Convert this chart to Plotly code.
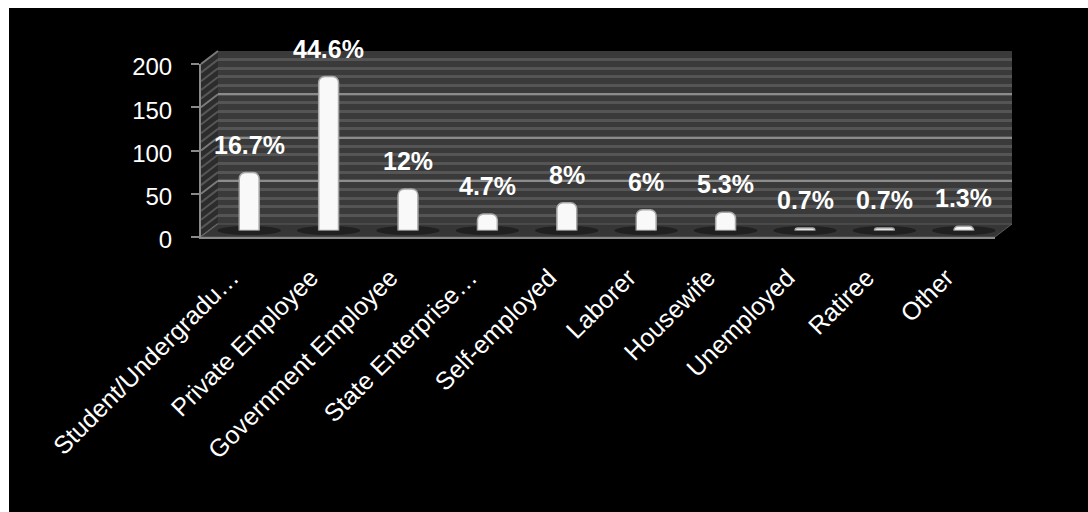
import plotly.graph_objects as go

# Occupation of respondents: counts and their share of the sample
categories = [
    "Student/Undergradu…", "Private Employee", "Government Employee",
    "State Enterprise…", "Self-employed", "Laborer", "Housewife",
    "Unemployed", "Ratiree", "Other",
]
counts = [67, 178, 48, 19, 32, 24, 21, 3, 3, 5]
share_labels = ["16.7%", "44.6%", "12%", "4.7%", "8%", "6%", "5.3%", "0.7%", "0.7%", "1.3%"]
y_ticks = [0, 50, 100, 150, 200]

# ---- page and pseudo-3D box geometry (pixels) ----
W, H = 1088, 512
FRAME_L, FRAME_T = 9, 8                 # white page border around the black panel
FRONT_L, FRONT_R = 201, 995             # front plane of the chart box
FRONT_B, FRONT_T = 237, 64              # value 0 and value 200 on the front plane
DEPTH_X, DEPTH_Y = 17, 13               # box depth (back plane offset)
Y_MAX = 200
FONT = "Arial, Liberation Sans, sans-serif"


def px(x):
    return x / W


def py(y):
    return 1 - y / H


def plane(dx, dy):
    """Axis domains for a plane shifted by (dx, dy) pixels toward the back."""
    return ([px(FRONT_L + dx), px(FRONT_R + dx)],
            [py(FRONT_B - dy), py(FRONT_T - dy)])


back_x, back_y = plane(DEPTH_X, DEPTH_Y)
front_x, front_y = plane(0, 0)
mid_x, mid_y = plane(DEPTH_X / 2, DEPTH_Y / 2)

fig = go.Figure()

# back wall subplot (only its grid is shown)
fig.add_trace(go.Scatter(x=[], y=[], xaxis="x", yaxis="y", showlegend=False, hoverinfo="skip"))
# front plane subplot (axis line, ticks, labels)
fig.add_trace(go.Scatter(x=categories, y=[None] * len(categories), xaxis="x2", yaxis="y2",
                         showlegend=False, hoverinfo="skip"))
# bars sit halfway into the box
fig.add_trace(go.Bar(
    x=categories, y=counts, xaxis="x3", yaxis="y3",
    marker=dict(color="#f9f9f9", line=dict(color="#a8a8a8", width=1.5), cornerradius=6),
    showlegend=False, hoverinfo="skip",
))

shapes = []
# black panel
shapes.append(dict(type="rect", xref="paper", yref="paper", layer="below",
                   x0=px(FRAME_L), x1=1, y0=0, y1=py(FRAME_T),
                   fillcolor="#000000", line=dict(width=0)))
# back wall
shapes.append(dict(type="rect", xref="paper", yref="paper", layer="below",
                   x0=back_x[0], x1=back_x[1], y0=back_y[0], y1=back_y[1],
                   fillcolor="#3a3a3a", line=dict(width=0)))


def path(points):
    return "M " + " L ".join(f"{px(x):.5f},{py(y):.5f}" for x, y in points) + " Z"


# left side wall
shapes.append(dict(type="path", xref="paper", yref="paper", layer="below",
                   path=path([(FRONT_L, FRONT_B), (FRONT_L, FRONT_T),
                              (FRONT_L + DEPTH_X, FRONT_T - DEPTH_Y),
                              (FRONT_L + DEPTH_X, FRONT_B - DEPTH_Y)]),
                   fillcolor="#2c2c2c", line=dict(width=0)))
# hatching on the side wall continues the back-wall grid
scale = (FRONT_B - FRONT_T) / Y_MAX
for v in range(0, Y_MAX + 1, 10):
    yf = FRONT_B - v * scale
    major = v % 50 == 0
    shapes.append(dict(type="line", xref="paper", yref="paper", layer="below",
                       x0=px(FRONT_L), y0=py(yf),
                       x1=px(FRONT_L + DEPTH_X), y1=py(yf - DEPTH_Y),
                       line=dict(color="#7a7a7a" if major else "#575757", width=2)))
# floor
shapes.append(dict(type="path", xref="paper", yref="paper", layer="below",
                   path=path([(FRONT_L, FRONT_B), (FRONT_R, FRONT_B),
                              (FRONT_R + DEPTH_X, FRONT_B - DEPTH_Y),
                              (FRONT_L + DEPTH_X, FRONT_B - DEPTH_Y)]),
                   fillcolor="#363636", line=dict(color="#5a5a5a", width=1)))
# soft shadows around each bar foot
for i, cat in enumerate(categories):
    shapes.append(dict(type="circle", xref="x3", yref="paper", layer="below",
                       x0=i - 0.4, x1=i + 0.4,
                       y0=py(FRONT_B - 2), y1=py(FRONT_B - DEPTH_Y + 2),
                       fillcolor="rgba(0,0,0,0.4)", line=dict(width=0)))

annotations = [
    dict(x=c, y=v, xref="x3", yref="y3", text=t, showarrow=False,
         yanchor="bottom", yshift=12,
         font=dict(family=FONT, size=25, color="#ffffff", weight="bold"))
    for c, v, t in zip(categories, counts, share_labels)
]

hidden = dict(showgrid=False, zeroline=False, showline=False, showticklabels=False,
              ticks="", automargin=False)

fig.update_layout(
    width=W, height=H,
    autosize=False,
    margin=dict(l=0, r=0, t=0, b=0, pad=0, autoexpand=False),
    paper_bgcolor="#ffffff",
    plot_bgcolor="rgba(0,0,0,0)",
    bargap=0.75,
    shapes=shapes,
    annotations=annotations,
    # back wall grid
    xaxis=dict(domain=back_x, anchor="y", type="category", categoryarray=categories,
               range=[-0.5, len(categories) - 0.5], **hidden),
    yaxis=dict(domain=back_y, anchor="x", range=[0, Y_MAX], showgrid=True,
               tickvals=y_ticks, gridcolor="#8c8c8c", gridwidth=2,
               minor=dict(dtick=10, showgrid=True, gridcolor="#555555", gridwidth=3),
               zeroline=False, showline=False, showticklabels=False, ticks="",
               automargin=False),
    # front plane with the visible axes
    xaxis2=dict(domain=front_x, anchor="y2", type="category", categoryarray=categories,
                range=[-0.5, len(categories) - 0.5], showgrid=False, zeroline=False,
                showline=True, linecolor="#8a8a8a", linewidth=2, ticks="",
                tickangle=-45, ticklabelstandoff=14, ticklabelshift=-9, automargin=False,
                tickfont=dict(family=FONT, size=25, color="#ffffff")),
    yaxis2=dict(domain=front_y, anchor="x2", range=[0, Y_MAX], tickvals=y_ticks,
                showgrid=False, zeroline=False, showline=True, linecolor="#8a8a8a",
                linewidth=2, ticks="outside", ticklen=8, tickcolor="#8a8a8a", tickwidth=2,
                ticklabelstandoff=14, ticklabelshift=3, automargin=False,
                tickfont=dict(family=FONT, size=24, color="#ffffff")),
    # bars
    xaxis3=dict(domain=mid_x, anchor="y3", type="category", categoryarray=categories,
                range=[-0.5, len(categories) - 0.5], **hidden),
    yaxis3=dict(domain=mid_y, anchor="x3", range=[0, Y_MAX], **hidden),
)

fig.write_html("out.html")
